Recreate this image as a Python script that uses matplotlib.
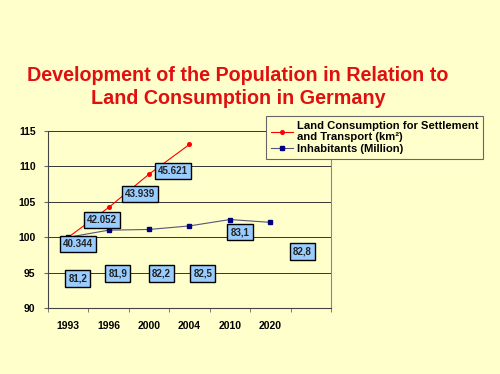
import matplotlib.pyplot as plt
import numpy as np

BG_COLOR = "#FFFFCC"
BOX_COLOR = "#99CCFF"
TITLE_COLOR = "#E01010"

years = ["1993", "1996", "2000", "2004", "2010", "2020", ""]

# index values (1993 = 100)
land_index = [100.0, 104.2, 108.9, 113.1]
people_index = [100.0, 101.0, 101.1, 101.6, 102.5, 102.1]

# labels shown in boxes: (text, x position, y position)
land_labels = ["40.344", "42.052", "43.939", "45.621"]
land_label_x = [0.25, 0.83, 1.77, 2.6]
land_label_y = [99.1, 102.4, 106.1, 109.3]

people_labels = ["81,2", "81,9", "82,2", "82,5", "83,1", "82,8"]
people_label_x = [0.24, 1.23, 2.3, 3.33, 4.25, 5.79]
people_label_y = [94.2, 94.9, 94.9, 94.9, 100.7, 98.0]

plt.rcParams['font.family'] = ['Liberation Sans', 'DejaVu Sans']

fig = plt.figure(figsize=(5.0, 3.74), dpi=100)
fig.patch.set_facecolor(BG_COLOR)
ax = fig.add_axes([0.096, 0.176, 0.566, 0.474])
ax.set_facecolor(BG_COLOR)

x_land = np.arange(len(land_index))
x_people = np.arange(len(people_index))

ax.plot(x_land, land_index, color="red", lw=0.8, marker="o", ms=2.6,
        label="Land Consumption for Settlement\nand Transport (km²)", zorder=3)
ax.plot(x_people, people_index, color="#555577", lw=0.8, marker="s", ms=3,
        mfc="#000080", mec="#000080", label="Inhabitants (Million)", zorder=3)

box = dict(boxstyle="square,pad=0.32", fc=BOX_COLOR, ec="black", lw=1)
for t, x, y in zip(land_labels, land_label_x, land_label_y):
    ax.text(x, y, t, ha="center", va="center", fontsize=7, fontweight="bold",
            color="#222222", bbox=box, zorder=4)
for t, x, y in zip(people_labels, people_label_x, people_label_y):
    ax.text(x, y, t, ha="center", va="center", fontsize=7, fontweight="bold",
            color="#222222", bbox=box, zorder=4)

ax.set_xlim(-0.5, len(years) - 0.5)
ax.set_ylim(90, 115)
ax.set_yticks(np.arange(90, 116, 5))
ax.yaxis.grid(True, color="#333333", lw=0.7)
ax.set_axisbelow(True)

ax.set_xticks(np.arange(len(years)))
ax.set_xticklabels(years)
ax.set_xticks(np.arange(len(years) + 1) - 0.5, minor=True)
ax.tick_params(axis="x", which="major", length=0, pad=9)
ax.tick_params(axis="x", which="minor", length=3, color="#666666")
ax.tick_params(axis="y", length=3, color="#666666", pad=6)
for lab in ax.get_xticklabels() + ax.get_yticklabels():
    lab.set_fontweight("bold")
    lab.set_fontsize(7.5)

ax.spines["top"].set_visible(False)
ax.spines["left"].set_color("#444444")
ax.spines["bottom"].set_color("#444444")
ax.spines["right"].set_color("#888888")

leg = ax.legend(loc="upper left", bbox_to_anchor=(0.77, 1.085), frameon=True,
                fancybox=False, edgecolor="#666666", facecolor=BG_COLOR,
                framealpha=1, prop={"weight": "bold", "size": 8.1},
                handlelength=2.0, handletextpad=0.3, labelspacing=0.15,
                borderpad=0.45, borderaxespad=0)
leg.get_frame().set_linewidth(0.8)
leg.set_zorder(5)

fig.text(0.476, 0.768, "Development of the Population in Relation to\nLand Consumption in Germany",
         ha="center", va="center", fontsize=14.2, fontweight="bold",
         color=TITLE_COLOR, linespacing=1.3)

fig.savefig("out.png", dpi=100, facecolor=BG_COLOR)
